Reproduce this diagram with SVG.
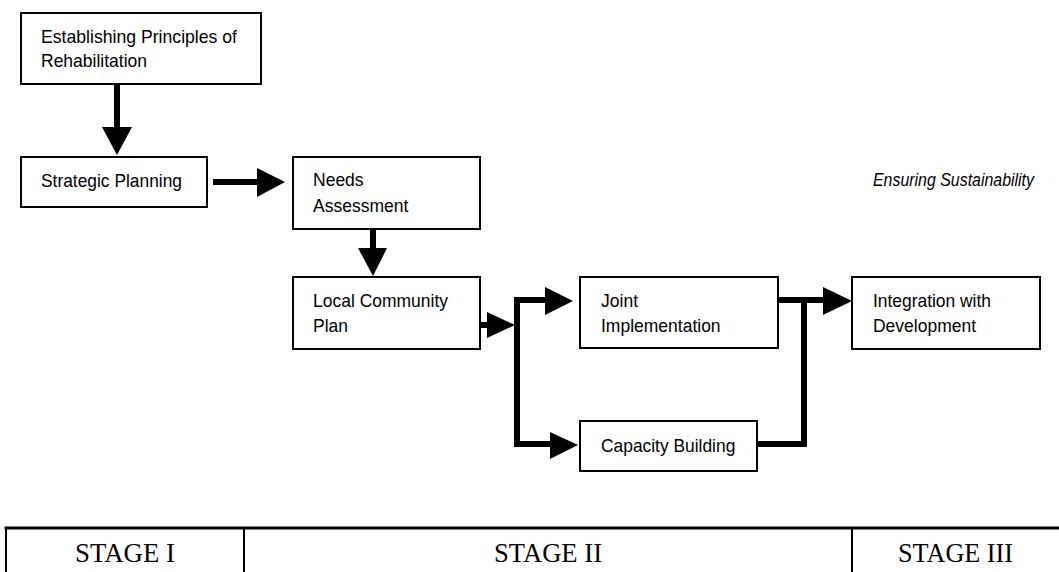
<svg xmlns="http://www.w3.org/2000/svg" width="1059" height="572" viewBox="0 0 1059 572">
<style>
.box{fill:#fff;stroke:#000;stroke-width:2}
.t{font-family:"Liberation Sans",Arial,sans-serif;font-size:19px;fill:#000}
.it{font-family:"Liberation Sans",Arial,sans-serif;font-size:17.5px;font-style:italic;fill:#000}
.st{font-family:"Liberation Serif","Times New Roman",serif;font-size:27px;fill:#000;text-anchor:middle}
.sh{fill:none;stroke:#000;stroke-width:6}
.hd{fill:#000}
.tb{stroke:#000;fill:none}
</style>
<rect width="1059" height="572" fill="#fff"/>
<g id="connectors">
<line class="sh" x1="117" y1="84" x2="117" y2="129"/>
<polygon class="hd" points="102,127 132,127 117,155"/>
<line class="sh" x1="213" y1="182" x2="259" y2="182"/>
<polygon class="hd" points="257,168 257,197 285,182"/>
<line class="sh" x1="373" y1="229" x2="373" y2="250"/>
<polygon class="hd" points="358,248 387,248 373,276"/>
<line class="sh" x1="480" y1="325" x2="489" y2="325"/>
<polygon class="hd" points="487,312 487,338 515,325"/>
<path class="sh" d="M547,300 H517 V444 H552"/>
<polygon class="hd" points="545,287 545,315 573,301"/>
<polygon class="hd" points="550,432 550,459 578,445"/>
<line class="sh" x1="773" y1="300" x2="825" y2="300"/>
<path class="sh" d="M757,444 H804 V300"/>
<polygon class="hd" points="823,287 823,315 852,301"/>
</g>
<g id="n1"><rect class="box" x="21" y="13" width="240" height="71"/>
<text class="t" x="41" y="43" textLength="196" lengthAdjust="spacingAndGlyphs">Establishing Principles of</text>
<text class="t" x="41" y="67" textLength="106" lengthAdjust="spacingAndGlyphs">Rehabilitation</text></g>
<g id="n2"><rect class="box" x="21" y="157" width="186" height="50"/>
<text class="t" x="41" y="187" textLength="141" lengthAdjust="spacingAndGlyphs">Strategic Planning</text></g>
<g id="n3"><rect class="box" x="293" y="157" width="187" height="72"/>
<text class="t" x="313" y="186" textLength="50.6" lengthAdjust="spacingAndGlyphs">Needs</text>
<text class="t" x="313" y="211.5" textLength="95.3" lengthAdjust="spacingAndGlyphs">Assessment</text></g>
<g id="n4"><rect class="box" x="293" y="277" width="187" height="72"/>
<text class="t" x="313" y="306.5" textLength="135" lengthAdjust="spacingAndGlyphs">Local Community</text>
<text class="t" x="313" y="331.5" textLength="35" lengthAdjust="spacingAndGlyphs">Plan</text></g>
<g id="n5"><rect class="box" x="580" y="277" width="198" height="71"/>
<text class="t" x="601" y="306.5" textLength="37" lengthAdjust="spacingAndGlyphs">Joint</text>
<text class="t" x="601" y="331.5" textLength="119.6" lengthAdjust="spacingAndGlyphs">Implementation</text></g>
<g id="n6"><rect class="box" x="580" y="421" width="177" height="50"/>
<text class="t" x="601" y="451.5" textLength="134.3" lengthAdjust="spacingAndGlyphs">Capacity Building</text></g>
<g id="n7"><rect class="box" x="852" y="277" width="188" height="72"/>
<text class="t" x="873" y="306.5" textLength="118" lengthAdjust="spacingAndGlyphs">Integration with</text>
<text class="t" x="873" y="331.5" textLength="103" lengthAdjust="spacingAndGlyphs">Development</text></g>
<g id="note"><text class="it" x="873" y="186" textLength="161" lengthAdjust="spacingAndGlyphs">Ensuring Sustainability</text></g>
<g id="stages">
<line class="tb" x1="4.5" y1="528" x2="1059" y2="528" stroke-width="3"/>
<line class="tb" x1="6" y1="527" x2="6" y2="572" stroke-width="2"/>
<line class="tb" x1="244" y1="527" x2="244" y2="572" stroke-width="2"/>
<line class="tb" x1="852" y1="527" x2="852" y2="572" stroke-width="2"/>
<text class="st" x="125" y="562" textLength="100" lengthAdjust="spacingAndGlyphs">STAGE I</text>
<text class="st" x="548" y="562" textLength="108" lengthAdjust="spacingAndGlyphs">STAGE II</text>
<text class="st" x="955.5" y="562" textLength="115" lengthAdjust="spacingAndGlyphs">STAGE III</text>
</g>
</svg>
